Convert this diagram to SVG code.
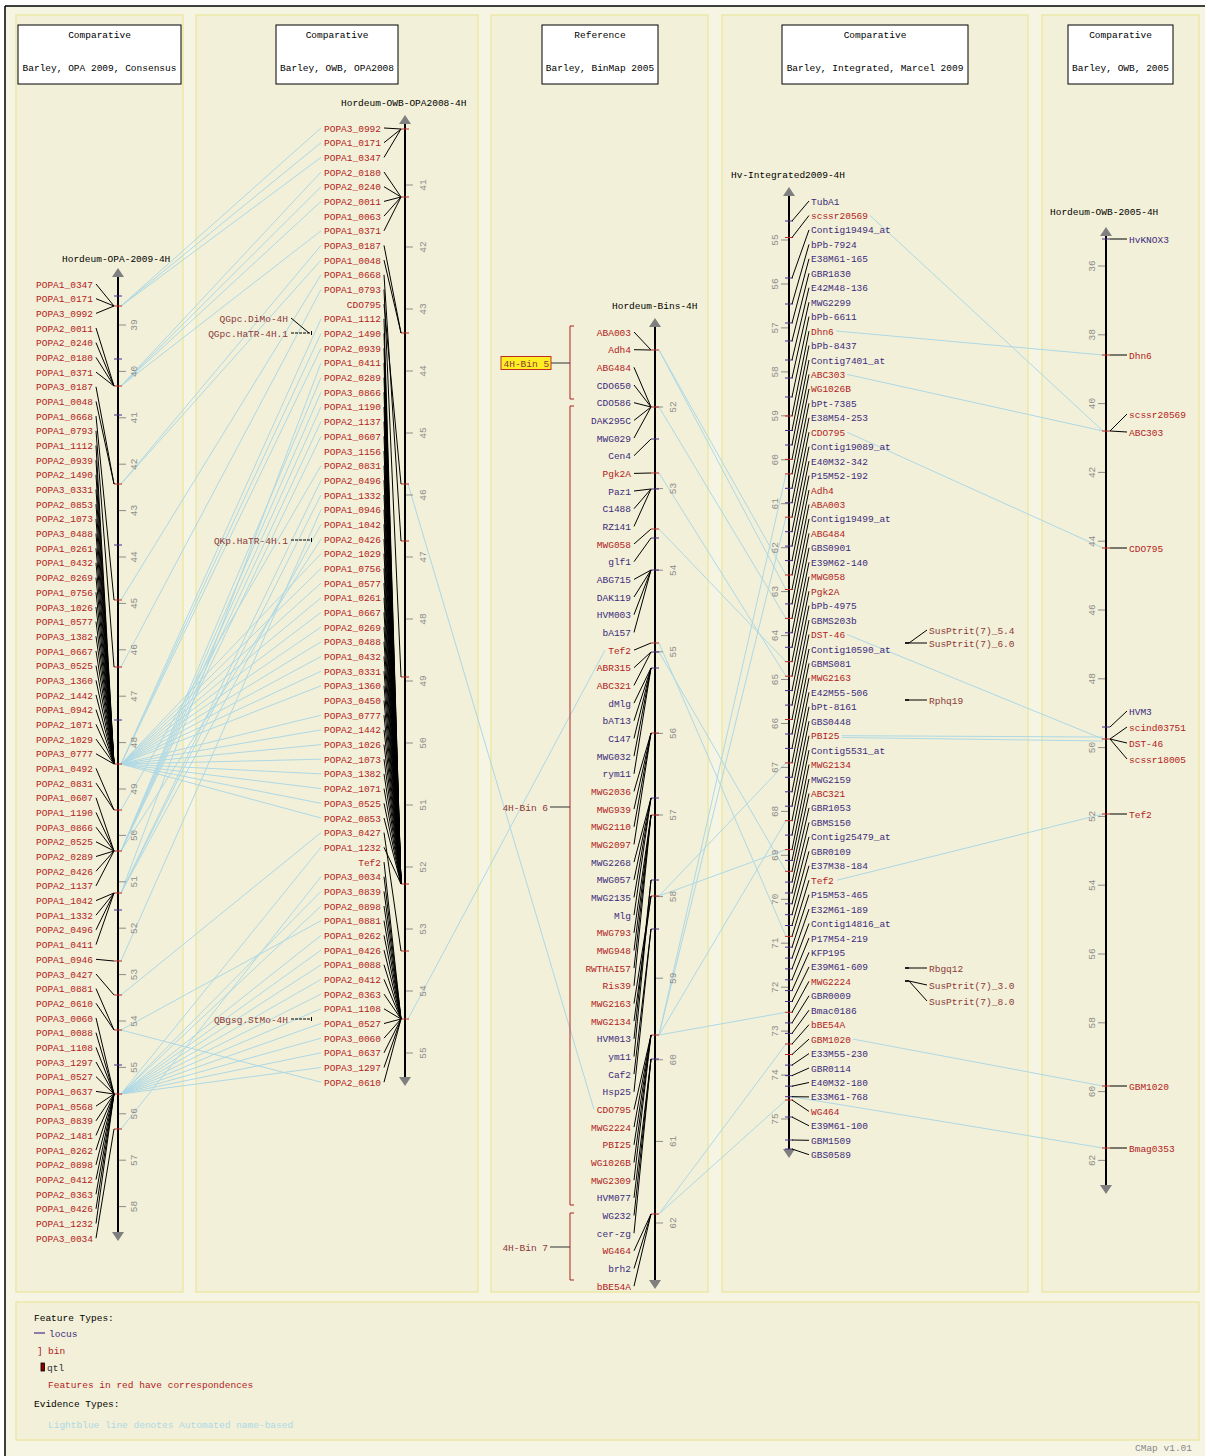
<svg xmlns="http://www.w3.org/2000/svg" width="1205" height="1456" viewBox="0 0 1205 1456">
<style>
text{font-family:"Liberation Mono","DejaVu Sans Mono",monospace;font-size:9.5px}
.e{text-anchor:end}
.m{text-anchor:middle}
.r{fill:#b22222}
.p{fill:#3d2b7d}
.k{fill:#000}
.q{fill:#8b3a3a}
.sct{fill:#8c8c8c;text-anchor:middle}
.ld{stroke:#000;stroke-width:1;fill:none}
.bl{stroke:#add8e6;stroke-width:1;fill:none}
.ax{stroke:#000;stroke-width:2}
.sc{stroke:#8c8c8c;stroke-width:1;fill:none}
.tr{stroke:#c02a2a;stroke-width:1;fill:none}
.tp{stroke:#4a2d8a;stroke-width:1;fill:none}
.arr{fill:#7f7f7f}
.panel{fill:#f2f0d8;stroke:#ece8a6;stroke-width:1.5}
.hb{fill:#fff;stroke:#000;stroke-width:1}
.bin{stroke:#b22222;stroke-width:1;fill:none}
</style>
<rect x="0" y="0" width="1205" height="1456" fill="#fff"/>
<rect x="5" y="6" width="1200" height="1450" fill="#f6f5e4"/>
<path d="M5 6H1205M5 6V1456" stroke="#000" stroke-width="1.5" fill="none"/>
<g id="panels">
<rect class="panel" x="16" y="15" width="167" height="1277"/>
<rect class="panel" x="196" y="15" width="282" height="1277"/>
<rect class="panel" x="491" y="15" width="217" height="1277"/>
<rect class="panel" x="722" y="15" width="306" height="1277"/>
<rect class="panel" x="1042" y="15" width="157" height="1277"/>
<rect class="panel" x="16" y="1302" width="1183" height="138"/>
</g>
<g id="headers">
<rect class="hb" x="18" y="25" width="163" height="59"/>
<text class="k m" x="99.5" y="38">Comparative</text><text class="k m" x="99.5" y="71">Barley, OPA 2009, Consensus</text>
<rect class="hb" x="276" y="25" width="122" height="59"/>
<text class="k m" x="337" y="38">Comparative</text><text class="k m" x="337" y="71">Barley, OWB, OPA2008</text>
<rect class="hb" x="542" y="25" width="116" height="59"/>
<text class="k m" x="600" y="38">Reference</text><text class="k m" x="600" y="71">Barley, BinMap 2005</text>
<rect class="hb" x="782" y="25" width="186" height="59"/>
<text class="k m" x="875" y="38">Comparative</text><text class="k m" x="875" y="71">Barley, Integrated, Marcel 2009</text>
<rect class="hb" x="1068" y="25" width="105" height="59"/>
<text class="k m" x="1120.5" y="38">Comparative</text><text class="k m" x="1120.5" y="71">Barley, OWB, 2005</text>
</g>
<g id="connectors">
<path class="bl" d="M121 306L321 157.4M121 306L321 142.7M121 306L321 128M121 386L321 201.4M121 386L321 186.7M121 386L321 172M121 386L321 230.8M121 484L321 245.4M121 484L321 260.1M121 600L321 274.8M121 667L321 289.5M121 764L321 318.8M121 764L321 348.2M121 764L321 333.5M121 764L321 671.2M121 764L321 818M121 764L321 759.2M121 764L321 641.8M121 764L321 597.8M121 764L321 656.5M121 764L321 627.1M121 764L321 568.4M121 764L321 744.6M121 764L321 583.1M121 764L321 773.9M121 764L321 612.4M121 764L321 803.3M121 764L321 685.8M121 764L321 729.9M121 764L321 788.6M121 764L321 553.7M121 764L321 715.2M121 810L321 465.6M121 851L321 436.3M121 851L321 406.9M121 851L321 392.2M121 851L321 377.6M121 851L321 539M121 851L321 421.6M121 893L321 524.4M121 893L321 495M121 893L321 480.3M121 893L321 362.9M121 961L321 509.7M121 995L321 832.6M121 1030L321 920.7M121 1030L321 1082.2M121 1094L321 1038.2M121 1094L321 964.8M121 1094L321 1008.8M121 1094L321 1067.5M121 1094L321 1023.5M121 1094L321 1052.8M121 1094L321 891.4M121 1094L321 935.4M121 1094L321 906M121 1094L321 979.4M121 1094L321 994.1M121 1094L321 950.1M121 1094L321 847.3M121 1129L321 876.7"/>
<path class="bl" d="M408 484L594 1109.5M408 1019L605 650"/>
<path class="bl" d="M659 350L786 589.5M659 350L786 575M659 407L786 618.4M659 473L786 676.2M659 529L786 661.7M659 643L786 936.4M659 652L786 871.3M659 896L786 762.9M659 896L786 849.6M659 1035L786 517.2M659 1035L786 1012.3M659 1035L786 820.7M659 1035L786 473.9M659 1214L786 1100M659 1214L786 1044"/>
<path class="bl" d="M870 215.5L1103 431M836 331L1103 355M847 374.4L1103 431M847 432.2L1103 548M847 634.5L1103 739M842 735.7L1103 737M842 737.5L1103 741M837 880.2L1103 814M853 1039.1L1103 1086M792 1096.7L1103 1148"/>
</g>
<g id="map-opa2009">
<text class="k" x="62" y="262">Hordeum-OPA-2009-4H</text>
<path class="sc" d="M118 325h8M118 371.4h8M118 417.8h8M118 464.2h8M118 510.6h8M118 557h8M118 603.4h8M118 649.8h8M118 696.2h8M118 742.6h8M118 789h8M118 835.4h8M118 881.8h8M118 928.2h8M118 974.6h8M118 1021h8M118 1067.4h8M118 1113.8h8M118 1160.2h8M118 1206.6h8"/>
<g class="sct">
<text x="137" y="325" transform="rotate(-90 137 325)">39</text><text x="137" y="371.4" transform="rotate(-90 137 371.4)">40</text><text x="137" y="417.8" transform="rotate(-90 137 417.8)">41</text><text x="137" y="464.2" transform="rotate(-90 137 464.2)">42</text><text x="137" y="510.6" transform="rotate(-90 137 510.6)">43</text><text x="137" y="557" transform="rotate(-90 137 557)">44</text><text x="137" y="603.4" transform="rotate(-90 137 603.4)">45</text><text x="137" y="649.8" transform="rotate(-90 137 649.8)">46</text><text x="137" y="696.2" transform="rotate(-90 137 696.2)">47</text><text x="137" y="742.6" transform="rotate(-90 137 742.6)">48</text><text x="137" y="789" transform="rotate(-90 137 789)">49</text><text x="137" y="835.4" transform="rotate(-90 137 835.4)">50</text><text x="137" y="881.8" transform="rotate(-90 137 881.8)">51</text><text x="137" y="928.2" transform="rotate(-90 137 928.2)">52</text><text x="137" y="974.6" transform="rotate(-90 137 974.6)">53</text><text x="137" y="1021" transform="rotate(-90 137 1021)">54</text><text x="137" y="1067.4" transform="rotate(-90 137 1067.4)">55</text><text x="137" y="1113.8" transform="rotate(-90 137 1113.8)">56</text><text x="137" y="1160.2" transform="rotate(-90 137 1160.2)">57</text><text x="137" y="1206.6" transform="rotate(-90 137 1206.6)">58</text>
</g>
<line class="ax" x1="118" y1="272" x2="118" y2="1236"/>
<polygon class="arr" points="112,277 118,268 124,277"/>
<polygon class="arr" points="112,1232 118,1241 124,1232"/>
<path class="tp" d="M114 296h8M114 359h8M114 415h8M114 545h8M114 720h8M114 910h8M114 1065h8"/>
<path class="tr" d="M114 306h8M114 386h8M114 484h8M114 600h8M114 667h8M114 764h8M114 810h8M114 851h8M114 893h8M114 961h8M114 995h8M114 1030h8M114 1094h8M114 1129h8"/>
<path class="ld" d="M96 284L114 306M96 298.7L114 306M96 313.4L114 306M96 328L114 386M96 342.7L114 386M96 357.4L114 386M96 372.1L114 386M96 386.8L114 484M96 401.4L114 484M96 416.1L114 600M96 430.8L114 667M96 445.5L114 764M96 460.2L114 764M96 474.8L114 764M96 489.5L114 764M96 504.2L114 764M96 518.9L114 764M96 533.6L114 764M96 548.2L114 764M96 562.9L114 764M96 577.6L114 764M96 592.3L114 764M96 607L114 764M96 621.6L114 764M96 636.3L114 764M96 651L114 764M96 665.7L114 764M96 680.4L114 764M96 695L114 764M96 709.7L114 764M96 724.4L114 764M96 739.1L114 764M96 753.8L114 764M96 768.4L114 810M96 783.1L114 810M96 797.8L114 851M96 812.5L114 851M96 827.2L114 851M96 841.8L114 851M96 856.5L114 851M96 871.2L114 851M96 885.9L114 851M96 900.6L114 893M96 915.2L114 893M96 929.9L114 893M96 944.6L114 893M96 959.3L114 961M96 974L114 995M96 988.6L114 1030M96 1003.3L114 1030M96 1018L114 1094M96 1032.7L114 1094M96 1047.4L114 1094M96 1062L114 1094M96 1076.7L114 1094M96 1091.4L114 1094M96 1106.1L114 1094M96 1120.8L114 1094M96 1135.4L114 1094M96 1150.1L114 1094M96 1164.8L114 1094M96 1179.5L114 1094M96 1194.2L114 1094M96 1208.8L114 1094M96 1223.5L114 1094M96 1238.2L114 1129"/>
<g class="e r">
<text x="93" y="287.5">POPA1_0347</text><text x="93" y="302.2">POPA1_0171</text><text x="93" y="316.9">POPA3_0992</text><text x="93" y="331.5">POPA2_0011</text><text x="93" y="346.2">POPA2_0240</text><text x="93" y="360.9">POPA2_0180</text><text x="93" y="375.6">POPA1_0371</text><text x="93" y="390.3">POPA3_0187</text><text x="93" y="404.9">POPA1_0048</text><text x="93" y="419.6">POPA1_0668</text><text x="93" y="434.3">POPA1_0793</text><text x="93" y="449">POPA1_1112</text><text x="93" y="463.7">POPA2_0939</text><text x="93" y="478.3">POPA2_1490</text><text x="93" y="493">POPA3_0331</text><text x="93" y="507.7">POPA2_0853</text><text x="93" y="522.4">POPA2_1073</text><text x="93" y="537.1">POPA3_0488</text><text x="93" y="551.7">POPA1_0261</text><text x="93" y="566.4">POPA1_0432</text><text x="93" y="581.1">POPA2_0269</text><text x="93" y="595.8">POPA1_0756</text><text x="93" y="610.5">POPA3_1026</text><text x="93" y="625.1">POPA1_0577</text><text x="93" y="639.8">POPA3_1382</text><text x="93" y="654.5">POPA1_0667</text><text x="93" y="669.2">POPA3_0525</text><text x="93" y="683.9">POPA3_1360</text><text x="93" y="698.5">POPA2_1442</text><text x="93" y="713.2">POPA1_0942</text><text x="93" y="727.9">POPA2_1071</text><text x="93" y="742.6">POPA2_1029</text><text x="93" y="757.3">POPA3_0777</text><text x="93" y="771.9">POPA1_0492</text><text x="93" y="786.6">POPA2_0831</text><text x="93" y="801.3">POPA1_0607</text><text x="93" y="816">POPA1_1190</text><text x="93" y="830.7">POPA3_0866</text><text x="93" y="845.3">POPA2_0525</text><text x="93" y="860">POPA2_0289</text><text x="93" y="874.7">POPA2_0426</text><text x="93" y="889.4">POPA2_1137</text><text x="93" y="904.1">POPA1_1042</text><text x="93" y="918.7">POPA1_1332</text><text x="93" y="933.4">POPA2_0496</text><text x="93" y="948.1">POPA1_0411</text><text x="93" y="962.8">POPA1_0946</text><text x="93" y="977.5">POPA3_0427</text><text x="93" y="992.1">POPA1_0881</text><text x="93" y="1006.8">POPA2_0610</text><text x="93" y="1021.5">POPA3_0060</text><text x="93" y="1036.2">POPA1_0088</text><text x="93" y="1050.9">POPA1_1108</text><text x="93" y="1065.5">POPA3_1297</text><text x="93" y="1080.2">POPA1_0527</text><text x="93" y="1094.9">POPA1_0637</text><text x="93" y="1109.6">POPA1_0568</text><text x="93" y="1124.3">POPA3_0839</text><text x="93" y="1138.9">POPA2_1481</text><text x="93" y="1153.6">POPA1_0262</text><text x="93" y="1168.3">POPA2_0898</text><text x="93" y="1183">POPA2_0412</text><text x="93" y="1197.7">POPA2_0363</text><text x="93" y="1212.3">POPA1_0426</text><text x="93" y="1227">POPA1_1232</text><text x="93" y="1241.7">POPA3_0034</text>
</g>
</g>
<g id="map-owb-opa2008">
<text class="k" x="341" y="106">Hordeum-OWB-OPA2008-4H</text>
<path class="sc" d="M405 185h8M405 247h8M405 309h8M405 371h8M405 433h8M405 495h8M405 557h8M405 619h8M405 681h8M405 743h8M405 805h8M405 867h8M405 929h8M405 991h8M405 1053h8"/>
<g class="sct">
<text x="426" y="185" transform="rotate(-90 426 185)">41</text><text x="426" y="247" transform="rotate(-90 426 247)">42</text><text x="426" y="309" transform="rotate(-90 426 309)">43</text><text x="426" y="371" transform="rotate(-90 426 371)">44</text><text x="426" y="433" transform="rotate(-90 426 433)">45</text><text x="426" y="495" transform="rotate(-90 426 495)">46</text><text x="426" y="557" transform="rotate(-90 426 557)">47</text><text x="426" y="619" transform="rotate(-90 426 619)">48</text><text x="426" y="681" transform="rotate(-90 426 681)">49</text><text x="426" y="743" transform="rotate(-90 426 743)">50</text><text x="426" y="805" transform="rotate(-90 426 805)">51</text><text x="426" y="867" transform="rotate(-90 426 867)">52</text><text x="426" y="929" transform="rotate(-90 426 929)">53</text><text x="426" y="991" transform="rotate(-90 426 991)">54</text><text x="426" y="1053" transform="rotate(-90 426 1053)">55</text>
</g>
<line class="ax" x1="405" y1="119" x2="405" y2="1082"/>
<polygon class="arr" points="399,124 405,115 411,124"/>
<polygon class="arr" points="399,1077 405,1086 411,1077"/>
<path class="tr" d="M401 129h8M401 197h8M401 333h8M401 484h8M401 541h8M401 677h8M401 884h8M401 951h8M401 1019h8"/>
<path class="ld" d="M384 128L401 129M384 142.7L401 129M384 157.4L401 129M384 172L401 197M384 186.7L401 197M384 201.4L401 197M384 216.1L401 197M384 230.8L401 197M384 245.4L401 333M384 260.1L401 333M384 274.8L401 541M384 289.5L401 677M384 304.2L401 484M384 318.8L401 884M384 333.5L401 884M384 348.2L401 884M384 362.9L401 884M384 377.6L401 884M384 392.2L401 884M384 406.9L401 884M384 421.6L401 884M384 436.3L401 884M384 451L401 884M384 465.6L401 884M384 480.3L401 884M384 495L401 884M384 509.7L401 884M384 524.4L401 884M384 539L401 884M384 553.7L401 884M384 568.4L401 884M384 583.1L401 884M384 597.8L401 884M384 612.4L401 884M384 627.1L401 884M384 641.8L401 884M384 656.5L401 884M384 671.2L401 884M384 685.8L401 884M384 700.5L401 884M384 715.2L401 884M384 729.9L401 884M384 744.6L401 884M384 759.2L401 884M384 773.9L401 884M384 788.6L401 884M384 803.3L401 884M384 818L401 884M384 832.6L401 951M384 847.3L401 884M384 862L401 1019M384 876.7L401 1019M384 891.4L401 1019M384 906L401 1019M384 920.7L401 1019M384 935.4L401 1019M384 950.1L401 1019M384 964.8L401 1019M384 979.4L401 1019M384 994.1L401 1019M384 1008.8L401 1019M384 1023.5L401 1019M384 1038.2L401 1019M384 1052.8L401 1019M384 1067.5L401 1019M384 1082.2L401 1019"/>
<g class="e r">
<text x="381" y="131.5">POPA3_0992</text><text x="381" y="146.2">POPA1_0171</text><text x="381" y="160.9">POPA1_0347</text><text x="381" y="175.5">POPA2_0180</text><text x="381" y="190.2">POPA2_0240</text><text x="381" y="204.9">POPA2_0011</text><text x="381" y="219.6">POPA1_0063</text><text x="381" y="234.3">POPA1_0371</text><text x="381" y="248.9">POPA3_0187</text><text x="381" y="263.6">POPA1_0048</text><text x="381" y="278.3">POPA1_0668</text><text x="381" y="293">POPA1_0793</text><text x="381" y="307.7">CDO795</text><text x="381" y="322.3">POPA1_1112</text><text x="381" y="337">POPA2_1490</text><text x="381" y="351.7">POPA2_0939</text><text x="381" y="366.4">POPA1_0411</text><text x="381" y="381.1">POPA2_0289</text><text x="381" y="395.7">POPA3_0866</text><text x="381" y="410.4">POPA1_1190</text><text x="381" y="425.1">POPA2_1137</text><text x="381" y="439.8">POPA1_0607</text><text x="381" y="454.5">POPA3_1156</text><text x="381" y="469.1">POPA2_0831</text><text x="381" y="483.8">POPA2_0496</text><text x="381" y="498.5">POPA1_1332</text><text x="381" y="513.2">POPA1_0946</text><text x="381" y="527.9">POPA1_1042</text><text x="381" y="542.5">POPA2_0426</text><text x="381" y="557.2">POPA2_1029</text><text x="381" y="571.9">POPA1_0756</text><text x="381" y="586.6">POPA1_0577</text><text x="381" y="601.3">POPA1_0261</text><text x="381" y="615.9">POPA1_0667</text><text x="381" y="630.6">POPA2_0269</text><text x="381" y="645.3">POPA3_0488</text><text x="381" y="660">POPA1_0432</text><text x="381" y="674.7">POPA3_0331</text><text x="381" y="689.3">POPA3_1360</text><text x="381" y="704">POPA3_0450</text><text x="381" y="718.7">POPA3_0777</text><text x="381" y="733.4">POPA2_1442</text><text x="381" y="748.1">POPA3_1026</text><text x="381" y="762.7">POPA2_1073</text><text x="381" y="777.4">POPA3_1382</text><text x="381" y="792.1">POPA2_1071</text><text x="381" y="806.8">POPA3_0525</text><text x="381" y="821.5">POPA2_0853</text><text x="381" y="836.1">POPA3_0427</text><text x="381" y="850.8">POPA1_1232</text><text x="381" y="865.5">Tef2</text><text x="381" y="880.2">POPA3_0034</text><text x="381" y="894.9">POPA3_0839</text><text x="381" y="909.5">POPA2_0898</text><text x="381" y="924.2">POPA1_0881</text><text x="381" y="938.9">POPA1_0262</text><text x="381" y="953.6">POPA1_0426</text><text x="381" y="968.3">POPA1_0088</text><text x="381" y="982.9">POPA2_0412</text><text x="381" y="997.6">POPA2_0363</text><text x="381" y="1012.3">POPA1_1108</text><text x="381" y="1027">POPA1_0527</text><text x="381" y="1041.7">POPA3_0060</text><text x="381" y="1056.3">POPA1_0637</text><text x="381" y="1071">POPA3_1297</text><text x="381" y="1085.7">POPA2_0610</text>
</g>
<path class="ld" d="M291 318L309 333"/>
<path class="ld" stroke-dasharray="3 1" d="M291 333H311M291 540H311M291 1019H311"/>
<path stroke="#000" stroke-width="1" d="M311.5 331v4M311.5 538v4M311.5 1017v4"/>
<g class="e q">
<text x="288" y="321.5">QGpc.DiMo-4H</text><text x="288" y="336.5">QGpc.HaTR-4H.1</text><text x="288" y="543.5">QKp.HaTR-4H.1</text><text x="288" y="1022.5">QBgsg.StMo-4H</text>
</g>
</g>
<g id="map-bins">
<text class="k" x="612" y="309">Hordeum-Bins-4H</text>
<path class="sc" d="M655 407h8M655 488.6h8M655 570.2h8M655 651.8h8M655 733.4h8M655 815h8M655 896.6h8M655 978.2h8M655 1059.8h8M655 1141.4h8M655 1223h8"/>
<g class="sct">
<text x="676" y="407" transform="rotate(-90 676 407)">52</text><text x="676" y="488.6" transform="rotate(-90 676 488.6)">53</text><text x="676" y="570.2" transform="rotate(-90 676 570.2)">54</text><text x="676" y="651.8" transform="rotate(-90 676 651.8)">55</text><text x="676" y="733.4" transform="rotate(-90 676 733.4)">56</text><text x="676" y="815" transform="rotate(-90 676 815)">57</text><text x="676" y="896.6" transform="rotate(-90 676 896.6)">58</text><text x="676" y="978.2" transform="rotate(-90 676 978.2)">59</text><text x="676" y="1059.8" transform="rotate(-90 676 1059.8)">60</text><text x="676" y="1141.4" transform="rotate(-90 676 1141.4)">61</text><text x="676" y="1223" transform="rotate(-90 676 1223)">62</text>
</g>
<line class="ax" x1="655" y1="322" x2="655" y2="1284"/>
<polygon class="arr" points="649,327 655,318 661,327"/>
<polygon class="arr" points="649,1280 655,1289 661,1280"/>
<path class="tr" d="M651 350h8M651 407h8M651 473h8M651 529h8M651 643h8M651 733h8M651 815h8M651 896h8M651 1035h8M651 1214h8"/>
<path class="tp" d="M651 439h8M651 489h8M651 538h8M651 570h8M651 652h8M651 668h8M651 798h8M651 880h8M651 929h8M651 1059h8"/>
<path class="ld" d="M634 332L651 350M634 349.7L651 350M634 367.3L651 407M634 385L651 407M634 402.7L651 407M634 420.4L651 407M634 438L651 407M634 455.7L651 439M634 473.4L651 473M634 491L651 489M634 508.7L651 489M634 526.4L651 489M634 544L651 529M634 561.7L651 538M634 579.4L651 570M634 597L651 570M634 614.7L651 570M634 632.4L651 570M634 650.1L651 643M634 667.7L651 652M634 685.4L651 652M634 703.1L651 668M634 720.7L651 668M634 738.4L651 668M634 756.1L651 668M634 773.8L651 668M634 791.4L651 733M634 809.1L651 733M634 826.8L651 733M634 844.4L651 733M634 862.1L651 798M634 879.8L651 798M634 897.4L651 798M634 915.1L651 798M634 932.8L651 815M634 950.5L651 815M634 968.1L651 815M634 985.8L651 815M634 1003.5L651 896M634 1021.1L651 896M634 1038.8L651 880M634 1056.5L651 880M634 1074.1L651 929M634 1091.8L651 929M634 1109.5L651 1035M634 1127.1L651 1035M634 1144.8L651 1035M634 1162.5L651 1035M634 1180.2L651 1035M634 1197.8L651 1059M634 1215.5L651 1059M634 1233.2L651 1059M634 1250.8L651 1214M634 1268.5L651 1214M634 1286.2L651 1214"/>
<g class="e">
<text class="r" x="631" y="335.5">ABA003</text><text class="r" x="631" y="353.2">Adh4</text><text class="r" x="631" y="370.8">ABG484</text><text class="p" x="631" y="388.5">CDO650</text><text class="p" x="631" y="406.2">CDO586</text><text class="p" x="631" y="423.9">DAK295C</text><text class="p" x="631" y="441.5">MWG029</text><text class="p" x="631" y="459.2">Cen4</text><text class="r" x="631" y="476.9">Pgk2A</text><text class="p" x="631" y="494.5">Paz1</text><text class="p" x="631" y="512.2">C1488</text><text class="p" x="631" y="529.9">RZ141</text><text class="r" x="631" y="547.5">MWG058</text><text class="p" x="631" y="565.2">glf1</text><text class="p" x="631" y="582.9">ABG715</text><text class="p" x="631" y="600.5">DAK119</text><text class="p" x="631" y="618.2">HVM003</text><text class="p" x="631" y="635.9">bA157</text><text class="r" x="631" y="653.6">Tef2</text><text class="r" x="631" y="671.2">ABR315</text><text class="r" x="631" y="688.9">ABC321</text><text class="p" x="631" y="706.6">dMlg</text><text class="p" x="631" y="724.2">bAT13</text><text class="p" x="631" y="741.9">C147</text><text class="p" x="631" y="759.6">MWG032</text><text class="p" x="631" y="777.3">rym11</text><text class="r" x="631" y="794.9">MWG2036</text><text class="r" x="631" y="812.6">MWG939</text><text class="r" x="631" y="830.3">MWG2110</text><text class="r" x="631" y="847.9">MWG2097</text><text class="p" x="631" y="865.6">MWG2268</text><text class="p" x="631" y="883.3">MWG057</text><text class="p" x="631" y="900.9">MWG2135</text><text class="p" x="631" y="918.6">Mlg</text><text class="r" x="631" y="936.3">MWG793</text><text class="r" x="631" y="954">MWG948</text><text class="r" x="631" y="971.6">RWTHAI57</text><text class="r" x="631" y="989.3">Ris39</text><text class="r" x="631" y="1007">MWG2163</text><text class="r" x="631" y="1024.6">MWG2134</text><text class="p" x="631" y="1042.3">HVM013</text><text class="p" x="631" y="1060">ym11</text><text class="p" x="631" y="1077.6">Caf2</text><text class="p" x="631" y="1095.3">Hsp25</text><text class="r" x="631" y="1113">CDO795</text><text class="r" x="631" y="1130.6">MWG2224</text><text class="r" x="631" y="1148.3">PBI25</text><text class="r" x="631" y="1166">WG1026B</text><text class="r" x="631" y="1183.7">MWG2309</text><text class="p" x="631" y="1201.3">HVM077</text><text class="p" x="631" y="1219">WG232</text><text class="p" x="631" y="1236.7">cer-zg</text><text class="r" x="631" y="1254.3">WG464</text><text class="p" x="631" y="1272">brh2</text><text class="r" x="631" y="1289.7">bBE54A</text>
</g>
<g id="bins">
<path class="bin" d="M574 326H570V399H574M574 406H570V1205H574M574 1213H570V1280H574"/>
<path stroke="#333" stroke-width="1" d="M551 363H570M550 807H570M550 1247H570"/>
<rect x="501" y="356.5" width="50" height="13" fill="#ffee22" stroke="#c03020" stroke-width="1"/>
<text class="q" x="503.5" y="366.5">4H-Bin 5</text>
<text class="q e" x="548" y="810.5">4H-Bin 6</text>
<text class="q e" x="548" y="1250.5">4H-Bin 7</text>
</g>
</g>
<g id="map-integrated2009">
<text class="k" x="731" y="178">Hv-Integrated2009-4H</text>
<path class="sc" d="M781 240h8M781 284h8M781 327.9h8M781 371.9h8M781 415.8h8M781 459.8h8M781 503.7h8M781 547.7h8M781 591.6h8M781 635.6h8M781 679.5h8M781 723.5h8M781 767.4h8M781 811.4h8M781 855.3h8M781 899.3h8M781 943.2h8M781 987.2h8M781 1031.1h8M781 1075.1h8M781 1119h8"/>
<g class="sct">
<text x="778" y="240" transform="rotate(-90 778 240)">55</text><text x="778" y="284" transform="rotate(-90 778 284)">56</text><text x="778" y="327.9" transform="rotate(-90 778 327.9)">57</text><text x="778" y="371.9" transform="rotate(-90 778 371.9)">58</text><text x="778" y="415.8" transform="rotate(-90 778 415.8)">59</text><text x="778" y="459.8" transform="rotate(-90 778 459.8)">60</text><text x="778" y="503.7" transform="rotate(-90 778 503.7)">61</text><text x="778" y="547.7" transform="rotate(-90 778 547.7)">62</text><text x="778" y="591.6" transform="rotate(-90 778 591.6)">63</text><text x="778" y="635.6" transform="rotate(-90 778 635.6)">64</text><text x="778" y="679.5" transform="rotate(-90 778 679.5)">65</text><text x="778" y="723.5" transform="rotate(-90 778 723.5)">66</text><text x="778" y="767.4" transform="rotate(-90 778 767.4)">67</text><text x="778" y="811.4" transform="rotate(-90 778 811.4)">68</text><text x="778" y="855.3" transform="rotate(-90 778 855.3)">69</text><text x="778" y="899.3" transform="rotate(-90 778 899.3)">70</text><text x="778" y="943.2" transform="rotate(-90 778 943.2)">71</text><text x="778" y="987.2" transform="rotate(-90 778 987.2)">72</text><text x="778" y="1031.1" transform="rotate(-90 778 1031.1)">73</text><text x="778" y="1075.1" transform="rotate(-90 778 1075.1)">74</text><text x="778" y="1119" transform="rotate(-90 778 1119)">75</text>
</g>
<line class="ax" x1="789" y1="191" x2="789" y2="1153"/>
<polygon class="arr" points="783,196 789,187 795,196"/>
<polygon class="arr" points="783,1149 789,1158 795,1149"/>
<path class="tp" d="M785 221h8M785 278h8M785 304h8M785 323h8M785 341h8M785 360h8M785 378h8M785 397h8M785 430.5h8M785 445h8M785 488.3h8M785 502.8h8M785 531.7h8M785 546.1h8M785 560.6h8M785 603.9h8M785 632.8h8M785 647.3h8M785 690.6h8M785 705.1h8M785 734h8M785 748.4h8M785 777.3h8M785 791.8h8M785 806.2h8M785 835.1h8M785 860.4h8M785 882.1h8M785 893h8M785 903.8h8M785 914.7h8M785 925.5h8M785 947.2h8M785 958.1h8M785 968.9h8M785 979.8h8M785 990.6h8M785 1001.5h8M785 1022.9h8M785 1033.4h8M785 1065.1h8M785 1075.6h8M785 1086.2h8M785 1096.7h8M785 1117h8M785 1140h8M785 1149h8"/>
<path class="tr" d="M785 237.5h8M785 416h8M785 459.4h8M785 473.9h8M785 517.2h8M785 575h8M785 589.5h8M785 618.4h8M785 661.7h8M785 676.2h8M785 719.5h8M785 762.9h8M785 820.7h8M785 849.6h8M785 871.3h8M785 936.4h8M785 1012.3h8M785 1044h8M785 1054.5h8M785 1100h8"/>
<path class="ld" d="M792 221L809 201M792 237.5L809 215.5M792 278L809 229.9M792 304L809 244.4M792 323L809 258.8M792 341L809 273.3M792 360L809 287.7M792 378L809 302.2M792 397L809 316.6M792 416L809 331.1M792 430.5L809 345.5M792 445L809 360M792 459.4L809 374.4M792 473.9L809 388.9M792 488.3L809 403.3M792 502.8L809 417.8M792 517.2L809 432.2M792 531.7L809 446.7M792 546.1L809 461.1M792 560.6L809 475.6M792 575L809 490M792 589.5L809 504.5M792 603.9L809 518.9M792 618.4L809 533.4M792 632.8L809 547.8M792 647.3L809 562.3M792 661.7L809 576.7M792 676.2L809 591.2M792 690.6L809 605.6M792 705.1L809 620.1M792 719.5L809 634.5M792 734L809 649M792 748.4L809 663.4M792 762.9L809 677.9M792 777.3L809 692.3M792 791.8L809 706.8M792 806.2L809 721.2M792 820.7L809 735.7M792 835.1L809 750.1M792 849.6L809 764.6M792 860.4L809 779M792 871.3L809 793.5M792 882.1L809 807.9M792 893L809 822.4M792 903.8L809 836.8M792 914.7L809 851.3M792 925.5L809 865.7M792 936.4L809 880.2M792 947.2L809 894.6M792 958.1L809 909.1M792 968.9L809 923.5M792 979.8L809 938M792 990.6L809 952.4M792 1001.5L809 966.9M792 1012.3L809 981.3M792 1022.9L809 995.8M792 1033.4L809 1010.2M792 1044L809 1024.7M792 1054.5L809 1039.1M792 1065.1L809 1053.6M792 1075.6L809 1068M792 1086.2L809 1082.5M792 1096.7L809 1096.9M792 1100L809 1111.4M792 1117L809 1125.8M792 1140L809 1140.3M792 1149L809 1154.7"/>
<g>
<text class="p" x="811" y="204.5">TubA1</text><text class="r" x="811" y="219">scssr20569</text><text class="p" x="811" y="233.4">Contig19494_at</text><text class="p" x="811" y="247.9">bPb-7924</text><text class="p" x="811" y="262.3">E38M61-165</text><text class="p" x="811" y="276.8">GBR1830</text><text class="p" x="811" y="291.2">E42M48-136</text><text class="p" x="811" y="305.7">MWG2299</text><text class="p" x="811" y="320.1">bPb-6611</text><text class="r" x="811" y="334.6">Dhn6</text><text class="p" x="811" y="349">bPb-8437</text><text class="p" x="811" y="363.5">Contig7401_at</text><text class="r" x="811" y="377.9">ABC303</text><text class="r" x="811" y="392.4">WG1026B</text><text class="p" x="811" y="406.8">bPt-7385</text><text class="p" x="811" y="421.3">E38M54-253</text><text class="r" x="811" y="435.7">CDO795</text><text class="p" x="811" y="450.2">Contig19089_at</text><text class="p" x="811" y="464.6">E40M32-342</text><text class="p" x="811" y="479.1">P15M52-192</text><text class="r" x="811" y="493.5">Adh4</text><text class="r" x="811" y="508">ABA003</text><text class="p" x="811" y="522.4">Contig19499_at</text><text class="r" x="811" y="536.9">ABG484</text><text class="p" x="811" y="551.3">GBS0901</text><text class="p" x="811" y="565.8">E39M62-140</text><text class="r" x="811" y="580.2">MWG058</text><text class="r" x="811" y="594.7">Pgk2A</text><text class="p" x="811" y="609.1">bPb-4975</text><text class="p" x="811" y="623.6">GBMS203b</text><text class="r" x="811" y="638">DST-46</text><text class="p" x="811" y="652.5">Contig10590_at</text><text class="p" x="811" y="666.9">GBMS081</text><text class="r" x="811" y="681.4">MWG2163</text><text class="p" x="811" y="695.8">E42M55-506</text><text class="p" x="811" y="710.3">bPt-8161</text><text class="p" x="811" y="724.7">GBS0448</text><text class="r" x="811" y="739.2">PBI25</text><text class="p" x="811" y="753.6">Contig5531_at</text><text class="r" x="811" y="768.1">MWG2134</text><text class="p" x="811" y="782.5">MWG2159</text><text class="r" x="811" y="797">ABC321</text><text class="p" x="811" y="811.4">GBR1053</text><text class="p" x="811" y="825.9">GBMS150</text><text class="p" x="811" y="840.3">Contig25479_at</text><text class="p" x="811" y="854.8">GBR0109</text><text class="p" x="811" y="869.2">E37M38-184</text><text class="r" x="811" y="883.7">Tef2</text><text class="p" x="811" y="898.1">P15M53-465</text><text class="p" x="811" y="912.6">E32M61-189</text><text class="p" x="811" y="927">Contig14816_at</text><text class="p" x="811" y="941.5">P17M54-219</text><text class="p" x="811" y="955.9">KFP195</text><text class="p" x="811" y="970.4">E39M61-609</text><text class="r" x="811" y="984.8">MWG2224</text><text class="p" x="811" y="999.3">GBR0009</text><text class="p" x="811" y="1013.7">Bmac0186</text><text class="r" x="811" y="1028.2">bBE54A</text><text class="r" x="811" y="1042.6">GBM1020</text><text class="p" x="811" y="1057.1">E33M55-230</text><text class="p" x="811" y="1071.5">GBR0114</text><text class="p" x="811" y="1086">E40M32-180</text><text class="p" x="811" y="1100.4">E33M61-768</text><text class="r" x="811" y="1114.9">WG464</text><text class="p" x="811" y="1129.3">E39M61-100</text><text class="p" x="811" y="1143.8">GBM1509</text><text class="p" x="811" y="1158.2">GBS0589</text>
</g>
<path class="ld" d="M909 643L927 630M909 643H927M906 700H927M906 968H927M909 981L927 985M909 981L927 1001"/>
<path stroke="#222" stroke-width="2" d="M905 643h4M905 700h4M905 968h4M905 981h4"/>
<g class="q">
<text x="929" y="633.5">SusPtrit(7)_5.4</text><text x="929" y="646.5">SusPtrit(7)_6.0</text><text x="929" y="703.5">Rphq19</text><text x="929" y="971.5">Rbgq12</text><text x="929" y="988.5">SusPtrit(7)_3.0</text><text x="929" y="1004.5">SusPtrit(7)_8.0</text>
</g>
</g>
<g id="map-owb2005">
<text class="k" x="1050" y="215">Hordeum-OWB-2005-4H</text>
<path class="sc" d="M1098 266h8M1098 334.8h8M1098 403.6h8M1098 472.4h8M1098 541.2h8M1098 610h8M1098 678.8h8M1098 747.6h8M1098 816.4h8M1098 885.2h8M1098 954h8M1098 1022.8h8M1098 1091.6h8M1098 1160.4h8"/>
<g class="sct">
<text x="1095" y="266" transform="rotate(-90 1095 266)">36</text><text x="1095" y="334.8" transform="rotate(-90 1095 334.8)">38</text><text x="1095" y="403.6" transform="rotate(-90 1095 403.6)">40</text><text x="1095" y="472.4" transform="rotate(-90 1095 472.4)">42</text><text x="1095" y="541.2" transform="rotate(-90 1095 541.2)">44</text><text x="1095" y="610" transform="rotate(-90 1095 610)">46</text><text x="1095" y="678.8" transform="rotate(-90 1095 678.8)">48</text><text x="1095" y="747.6" transform="rotate(-90 1095 747.6)">50</text><text x="1095" y="816.4" transform="rotate(-90 1095 816.4)">52</text><text x="1095" y="885.2" transform="rotate(-90 1095 885.2)">54</text><text x="1095" y="954" transform="rotate(-90 1095 954)">56</text><text x="1095" y="1022.8" transform="rotate(-90 1095 1022.8)">58</text><text x="1095" y="1091.6" transform="rotate(-90 1095 1091.6)">60</text><text x="1095" y="1160.4" transform="rotate(-90 1095 1160.4)">62</text>
</g>
<line class="ax" x1="1106" y1="231" x2="1106" y2="1189"/>
<polygon class="arr" points="1100,236 1106,227 1112,236"/>
<polygon class="arr" points="1100,1185 1106,1194 1112,1185"/>
<path class="tp" d="M1102 239h8M1102 727h8"/>
<path class="tr" d="M1102 355h8M1102 431h8M1102 548h8M1102 739h8M1102 814h8M1102 1086h8M1102 1148h8"/>
<path class="ld" d="M1110 239H1127M1110 355H1127M1110 431L1127 414M1110 431L1127 432M1110 548H1127M1110 727L1127 711M1110 739L1127 727M1110 739L1127 743M1110 739L1127 759M1110 814H1127M1110 1086H1127M1110 1148H1127"/>
<text class="p" x="1129" y="242.5">HvKNOX3</text><text class="r" x="1129" y="358.5">Dhn6</text><text class="r" x="1129" y="417.5">scssr20569</text><text class="r" x="1129" y="435.5">ABC303</text><text class="r" x="1129" y="551.5">CDO795</text><text class="p" x="1129" y="714.5">HVM3</text><text class="r" x="1129" y="730.5">scind03751</text><text class="r" x="1129" y="746.5">DST-46</text><text class="r" x="1129" y="762.5">scssr18005</text><text class="r" x="1129" y="817.5">Tef2</text><text class="r" x="1129" y="1089.5">GBM1020</text><text class="r" x="1129" y="1151.5">Bmag0353</text>
</g>
<g id="legend">
<text class="k" x="34" y="1321">Feature Types:</text>
<path stroke="#4a2d8a" stroke-width="1.2" d="M34 1333H45"/>
<text class="p" x="49" y="1336.5">locus</text>
<text class="r" x="37" y="1353.5">]</text><text class="r" x="48" y="1353.5">bin</text>
<rect x="41" y="1363" width="3.5" height="8" fill="#8b0000" stroke="#000" stroke-width="0.8"/>
<text fill="#333" x="47" y="1370.5">qtl</text>
<text class="r" x="48" y="1388">Features in red have correspondences</text>
<text class="k" x="34" y="1407">Evidence Types:</text>
<text fill="#add8e6" x="48" y="1428">Lightblue line denotes Automated name-based</text>
<text fill="#888" x="1135" y="1451">CMap v1.01</text>
</g>
</svg>
